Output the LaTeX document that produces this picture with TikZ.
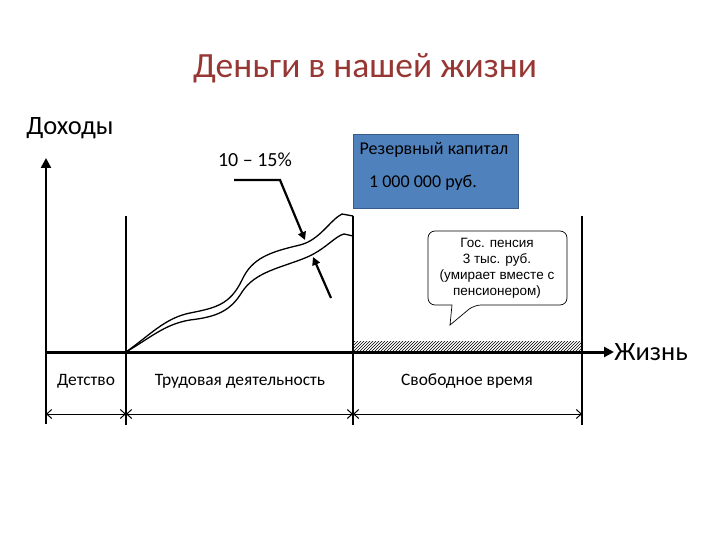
\documentclass[tikz,border=0pt]{standalone}
\usepackage{fontspec}
\setmainfont{Carlito}
\newfontfamily\arialf{Liberation Sans}
\usetikzlibrary{arrows.meta,patterns}
\definecolor{titlec}{RGB}{150,55,52}
\definecolor{boxc}{RGB}{79,129,189}
\definecolor{boxb}{RGB}{56,93,138}
\begin{document}
\begin{tikzpicture}[x=1pt,y=-1pt,
  lbl/.style={font=\fontsize{17.4}{20}\selectfont,inner sep=0},
  vln/.style={line width=1.2pt},
  dim/.style={line width=1pt,{Straight Barb[length=5pt,width=9pt]}-{Straight Barb[length=5pt,width=9pt]}},
  crv/.style={line width=1.3pt},
  arr/.style={line width=2.2pt,-{Triangle[length=8pt,width=8pt]}}]
\useasboundingbox (0,0) rectangle (720,540);
\node[font=\fontsize{35.5}{40}\selectfont,text=titlec] (title) at (365,68) {Деньги в нашей жизни};
\node[font=\fontsize{26.5}{30}\selectfont] (doh) at (70,128) {Доходы};
\node[font=\fontsize{26.5}{30}\selectfont] (zh) at (651,352) {Жизнь};
% hatched
\fill[pattern=north east lines] (353,341) rectangle (582,352);
% axes
\coordinate (o) at (46,352);
\coordinate (ytop) at (46,158);
\coordinate (xend) at (614,352);
\draw[line width=2.4pt,-{Triangle[length=10pt,width=10pt]}] (46,424) -- (ytop);
\draw[line width=3pt,-{Triangle[length=10pt,width=10pt]}] (o) -- (xend);
% verticals
\draw[vln] (126,216) -- (126,425);
\draw[vln] (353,216) -- (353,425);
\draw[vln] (582,216) -- (582,425);
\coordinate (d0) at (46,414); \coordinate (d1) at (126,414);
\coordinate (d2) at (353,414); \coordinate (d3) at (582,414);
\draw[dim] (d0) -- (d1);
\draw[dim] (d1) -- (d2);
\draw[dim] (d2) -- (d3);
\node[lbl] (l1) at (86,381) {Детство};
\node[lbl] (l2) at (240,381) {Трудовая деятельность};
\node[lbl] (l3) at (467,381) {Свободное время};
% curves
\draw[crv] (126,352) .. controls (150,335) and (165,318) .. (190,313)
  .. controls (215,308) and (230,305) .. (242,280)
  .. controls (252,258) and (270,252) .. (300,245)
  .. controls (320,240) and (330,220) .. (342,214) -- (353,216);
\draw[crv] (126,352) .. controls (150,338) and (165,324) .. (190,320)
  .. controls (215,317) and (230,312) .. (242,292)
  .. controls (255,272) and (280,268) .. (305,258)
  .. controls (325,250) and (335,236) .. (344,234) -- (353,236);
% arrows
\node[font=\fontsize{20}{22}\selectfont] (pct) at (255,160) {10 – 15\%};
\coordinate (a1) at (234,180); \coordinate (a2) at (280,180); \coordinate (a3) at (305,240);
\draw[arr] (a1) -- (a2) -- (a3);
\coordinate (b1) at (331,298); \coordinate (b2) at (313,257);
\draw[arr] (b1) -- (b2);
% blue box
\node[draw=boxb,fill=boxc,line width=1pt,minimum width=165pt,minimum height=74pt,anchor=north west,inner sep=0] (box) at (353,134) {};
\node[font=\fontsize{18}{20}\selectfont] (b1t) at (434,150) {Резервный капитал};
\node[font=\fontsize{18}{20}\selectfont] (b2t) at (423,183) {1 000 000 руб.};
% callout
\draw[line width=0.7pt,rounded corners=7pt] (428,231) -- (567,231) -- (567,305) -- (474,305) [sharp corners] -- (450,325) -- (452,305) [rounded corners=7pt] -- (428,305) -- cycle;
\node[font=\arialf\fontsize{13.5}{16}\selectfont,align=center] (call) at (497,268) {Гос. пенсия\\3 тыс. руб.\\(умирает вместе с\\пенсионером)};
\end{tikzpicture}
\end{document}
